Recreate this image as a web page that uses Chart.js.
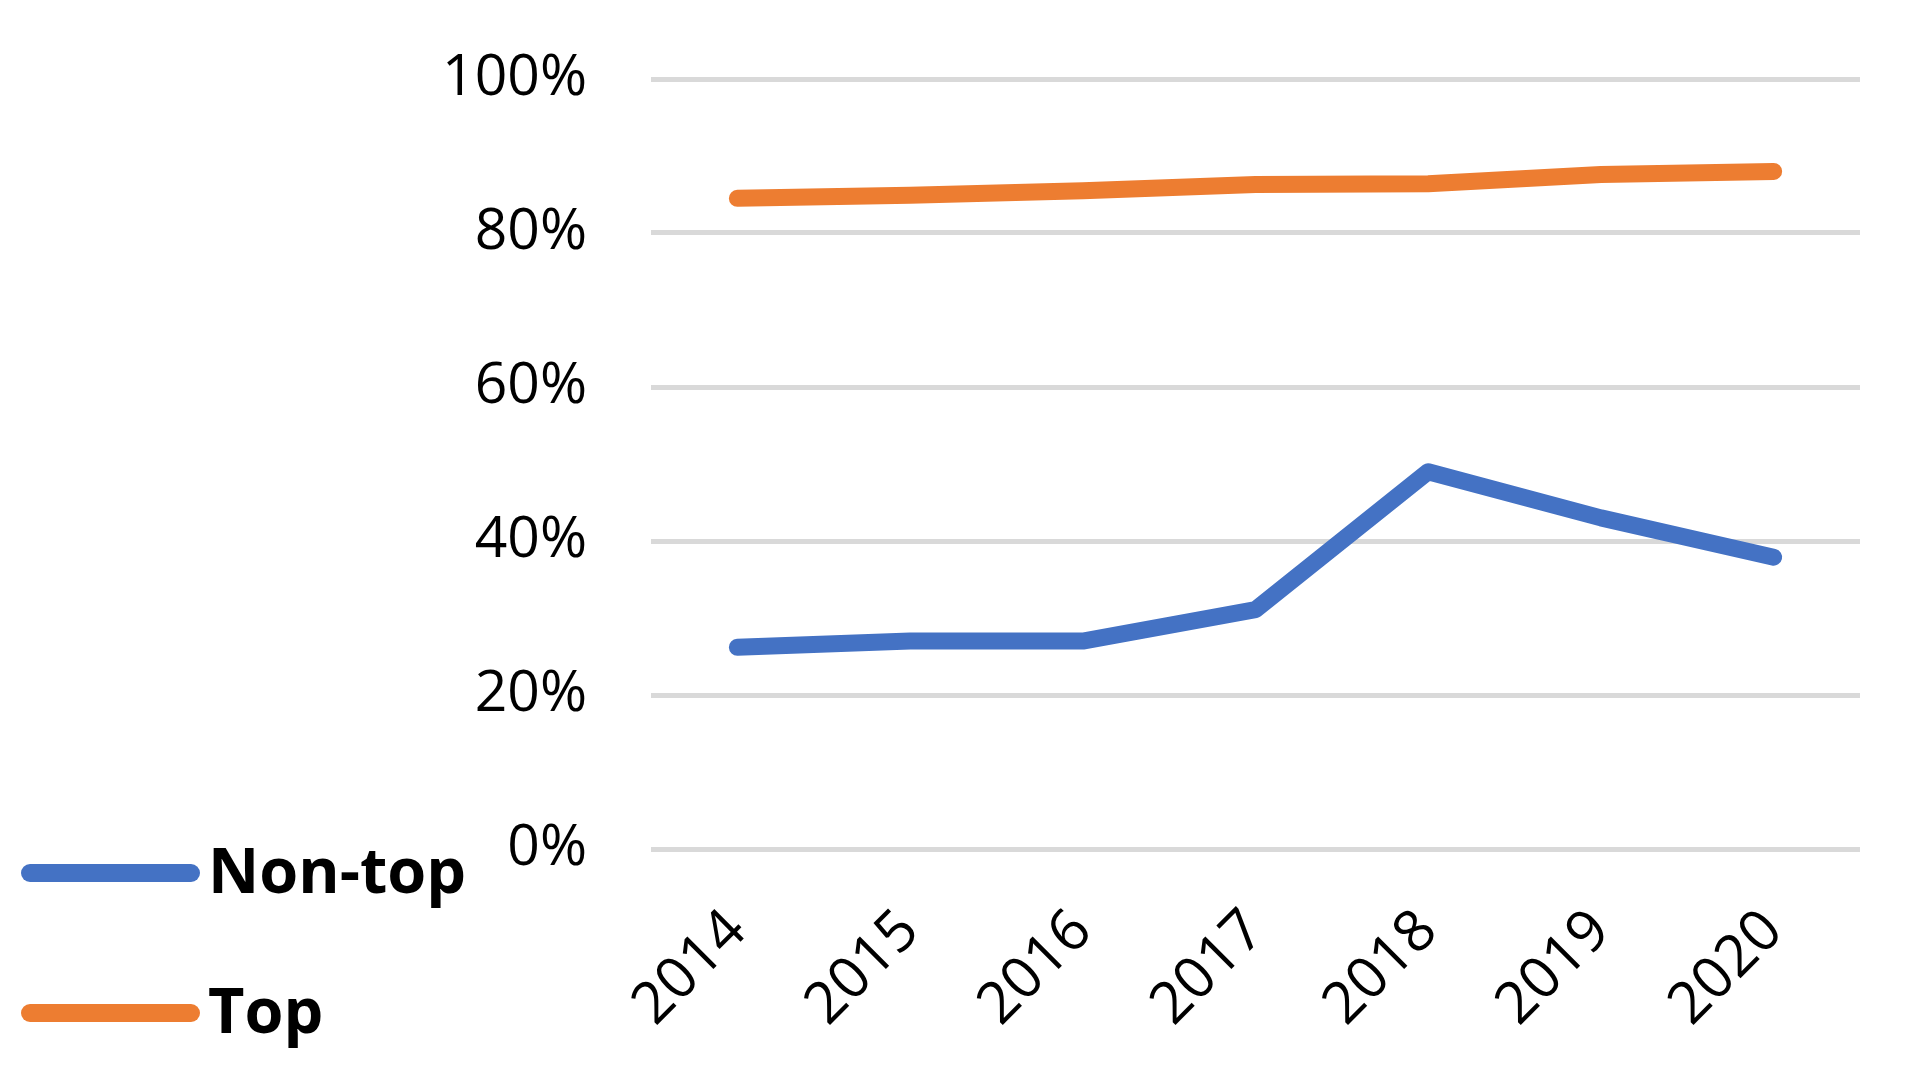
<!DOCTYPE html>
<html>
<head>
<meta charset="utf-8">
<script src="https://cdn.jsdelivr.net/npm/chart.js@4/dist/chart.umd.min.js"></script>
<style>
  html, body { margin: 0; padding: 0; background: #fff; }
  #wrap { width: 1912px; height: 1088px; }
</style>
</head>
<body>
<div id="wrap"><canvas id="shareChart" width="1912" height="1088"></canvas></div>
<script>
const years = ["2014", "2015", "2016", "2017", "2018", "2019", "2020"];
const nonTopShare = [26.2, 27.0, 27.0, 31.1, 49.0, 43.0, 37.9];
const topShare = [84.5, 84.9, 85.5, 86.3, 86.4, 87.6, 88.0];
const yTicks = [0, 20, 40, 60, 80, 100];

// legend drawn by hand so it can sit under the axis labels like the original
const sideLegend = {
  id: "sideLegend",
  afterDraw(chart, args, opts) {
    const ctx = chart.ctx;
    ctx.save();
    chart.data.datasets.forEach((ds, i) => {
      const y = opts.firstY + i * opts.gap;
      ctx.beginPath();
      ctx.lineCap = "round";
      ctx.lineWidth = 18;
      ctx.strokeStyle = ds.borderColor;
      ctx.moveTo(opts.x0, y);
      ctx.lineTo(opts.x1, y);
      ctx.stroke();
      ctx.fillStyle = "#000";
      ctx.font = "bold 63px 'Open Sans'";
      ctx.textBaseline = "middle";
      ctx.fillText(ds.label, opts.textX, y + 2);
    });
    ctx.restore();
  },
};

const lineStyle = {
  borderWidth: 17,
  pointRadius: 0,
  tension: 0,
  borderCapStyle: "round",
  borderJoinStyle: "round",
  fill: false,
};

new Chart(document.getElementById("shareChart").getContext("2d"), {
  type: "line",
  data: {
    labels: years,
    datasets: [
      { label: "Non-top", data: nonTopShare, borderColor: "#4472C4", backgroundColor: "#4472C4", ...lineStyle },
      { label: "Top", data: topShare, borderColor: "#ED7D31", backgroundColor: "#ED7D31", ...lineStyle },
    ],
  },
  options: {
    responsive: false,
    animation: false,
    layout: { autoPadding: false, padding: { left: 0, right: 52, top: 79, bottom: 0 } },
    plugins: {
      legend: { display: false },
      tooltip: { enabled: false },
      sideLegend: { x0: 30, x1: 191, textX: 208, firstY: 873, gap: 140 },
    },
    scales: {
      x: {
        offset: true,
        grid: { display: false },
        border: { display: false },
        ticks: {
          color: "#000",
          font: { family: "Open Sans", size: 58 },
          minRotation: 45,
          maxRotation: 45,
          padding: 40,
        },
        afterFit: (scale) => { scale.height = 239; },
      },
      y: {
        min: 0,
        max: 100,
        afterBuildTicks: (scale) => { scale.ticks = yTicks.map((v) => ({ value: v })); },
        grid: { color: "#d9d9d9", lineWidth: 5, drawTicks: false },
        border: { display: false },
        ticks: {
          color: "#000",
          font: { family: "Open Sans", size: 57 },
          padding: 64,
          callback: (value) => `${value}%`,
        },
        afterFit: (scale) => {
          scale.width = 651;
          scale.paddingTop = 0;
          scale.paddingBottom = 0;
        },
      },
    },
  },
  plugins: [sideLegend],
});
</script>
</body>
</html>
